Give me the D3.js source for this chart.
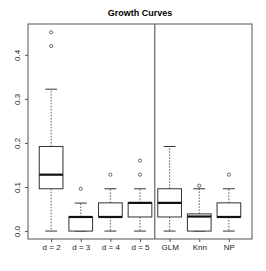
<!DOCTYPE html>
<html><head><meta charset="utf-8">
<script src="https://cdn.jsdelivr.net/npm/d3@7"></script>
<style>body{margin:0;background:#fff}svg{display:block}</style>
</head><body>
<script>
const categories = ["d = 2","d = 3","d = 4","d = 5","GLM","Knn","NP"];
const whiskerLow = [0, 0, 0, 0, 0, 0, 0];
const q1 = [0.096, 0, 0.032, 0.032, 0.032, 0, 0.032];
const median = [0.128, 0.032, 0.032, 0.064, 0.064, 0.033, 0.032];
const q3 = [0.192, 0.032, 0.064, 0.064, 0.096, 0.039, 0.064];
const whiskerHigh = [0.322, 0.0635, 0.096, 0.096, 0.192, 0.096, 0.096];
const outliers = [[0.451, 0.420], [0.096], [0.128], [0.128, 0.160], [], [0.103], [0.128]];
const yTicks = [0.0, 0.1, 0.2, 0.3, 0.4];
const title = "Growth Curves";
const separatorAt = 4.5;

const W = 266, H = 271;
const L = 28, R = 252, T = 24, B = 239;
const svg = d3.select("body").append("svg").attr("width", W).attr("height", H);
const x = d3.scaleLinear().domain([0.22, 7.78]).range([L, R]);
const y = d3.scaleLinear().domain([-0.018, 0.47]).range([B, T]);
const col = "#333";
const font = "Liberation Sans, Arial, Helvetica, sans-serif";

svg.append("text").attr("x", (L + R) / 2).attr("y", 16).attr("text-anchor", "middle")
  .attr("font-family", font).attr("font-weight", "bold").attr("font-size", 9).text(title);

categories.forEach((c, i) => {
  const cx = x(i + 1);
  const bw = x(0.4) - x(0);
  const sw = x(0.2) - x(0);
  const g = svg.append("g");
  g.append("line").attr("x1", cx).attr("x2", cx).attr("y1", y(q3[i])).attr("y2", y(whiskerHigh[i]))
    .attr("stroke", col).attr("stroke-width", 0.8).attr("stroke-dasharray", "1.5,1.5");
  g.append("line").attr("x1", cx).attr("x2", cx).attr("y1", y(q1[i])).attr("y2", y(whiskerLow[i]))
    .attr("stroke", col).attr("stroke-width", 0.8).attr("stroke-dasharray", "1.5,1.5");
  [whiskerHigh[i], whiskerLow[i]].forEach(v => {
    g.append("line").attr("x1", cx - sw).attr("x2", cx + sw).attr("y1", y(v)).attr("y2", y(v))
      .attr("stroke", col).attr("stroke-width", 1);
  });
  g.append("rect").attr("x", cx - bw).attr("width", 2 * bw)
    .attr("y", y(q3[i])).attr("height", Math.max(0, y(q1[i]) - y(q3[i])))
    .attr("fill", "white").attr("stroke", col).attr("stroke-width", 1);
  g.append("line").attr("x1", cx - bw).attr("x2", cx + bw).attr("y1", y(median[i])).attr("y2", y(median[i]))
    .attr("stroke", "#111").attr("stroke-width", 2.2);
  outliers[i].forEach(v => {
    g.append("circle").attr("cx", cx).attr("cy", y(v)).attr("r", 1.6)
      .attr("fill", "none").attr("stroke", col).attr("stroke-width", 0.7);
  });
});

svg.append("line").attr("x1", x(separatorAt)).attr("x2", x(separatorAt)).attr("y1", T).attr("y2", B)
  .attr("stroke", "#444").attr("stroke-width", 1);

svg.append("rect").attr("x", L).attr("y", T).attr("width", R - L).attr("height", B - T)
  .attr("fill", "none").attr("stroke", "#555").attr("stroke-width", 1);

const yAxis = svg.append("g").attr("transform", `translate(${L},0)`)
  .call(d3.axisLeft(y).tickValues(yTicks).tickSize(3).tickPadding(4).tickFormat(d3.format(".1f")));
yAxis.select(".domain").remove();
yAxis.selectAll(".tick line").attr("stroke", "#555");
yAxis.selectAll(".tick text").attr("font-family", font).attr("font-size", 8).attr("fill", "#222")
  .attr("text-anchor", "middle").attr("dy", null).attr("x", null)
  .attr("transform", "translate(-10,0) rotate(-90)").attr("dominant-baseline", "middle");

const xAxis = svg.append("g").attr("transform", `translate(0,${B})`)
  .call(d3.axisBottom(x).tickValues(d3.range(1, 8)).tickSize(3).tickPadding(2)
    .tickFormat(d => categories[d - 1]));
xAxis.select(".domain").remove();
xAxis.selectAll(".tick line").attr("stroke", "#555");
xAxis.selectAll(".tick text").attr("font-family", font).attr("font-size", 8).attr("fill", "#222");
</script>
</body></html>
